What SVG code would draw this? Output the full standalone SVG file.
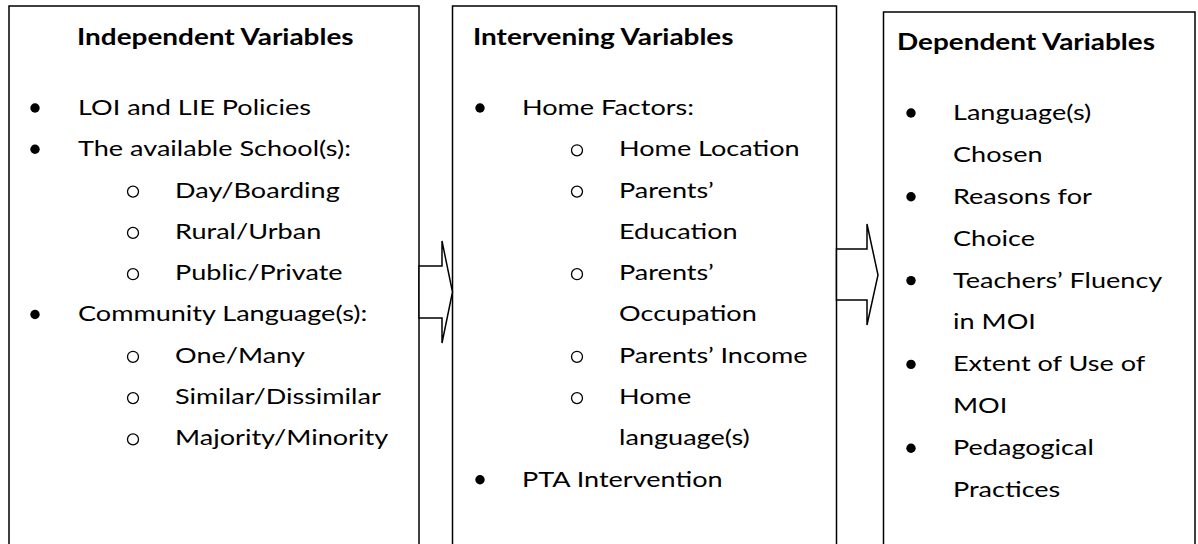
<svg xmlns="http://www.w3.org/2000/svg" width="1198" height="544" viewBox="0 0 1198 544">
<style>
.box{fill:#fff;stroke:#000;stroke-width:1.5}
.arr{fill:#fff;stroke:#000;stroke-width:1.5;stroke-linejoin:miter}
text{font-family:Lato,"Liberation Sans",sans-serif;font-size:22px;fill:#000}
.t{font-weight:bold}
.b{fill:#000}
.c{fill:none;stroke:#000;stroke-width:1.3}
</style>
<rect width="1198" height="544" fill="#fff"/>
<g id="independent">
<rect class="box" x="9" y="6" width="410" height="560"/>
<g transform="translate(77 0) scale(1.27 1)"><text class="t" x="0" y="45">Independent Variables</text></g>
<circle class="b" cx="35" cy="108" r="4.7"/>
<circle class="b" cx="35" cy="149.3" r="4.7"/>
<circle class="c" cx="133" cy="191.6" r="5.5"/>
<circle class="c" cx="133" cy="232.9" r="5.5"/>
<circle class="c" cx="133" cy="274.2" r="5.5"/>
<circle class="b" cx="35" cy="314.5" r="4.7"/>
<circle class="c" cx="133" cy="356.8" r="5.5"/>
<circle class="c" cx="133" cy="398.1" r="5.5"/>
<circle class="c" cx="133" cy="439.4" r="5.5"/>
<g transform="translate(78 0) scale(1.23 1)">
<text x="0" y="115">LOI and LIE Policies</text>
<text x="0" y="156.3">The available School(s):</text>
<text x="78.9" y="197.6">Day/Boarding</text>
<text x="78.9" y="238.9">Rural/Urban</text>
<text x="78.9" y="280.2">Public/Private</text>
<text x="0" y="321.5">Community Language(s):</text>
<text x="78.9" y="362.8">One/Many</text>
<text x="78.9" y="404.1">Similar/Dissimilar</text>
<text x="78.9" y="445.4">Majority/Minority</text>
</g>
</g>
<g id="intervening">
<rect class="box" x="452.5" y="6" width="384" height="560"/>
<g transform="translate(473 0) scale(1.27 1)"><text class="t" x="0" y="45">Intervening Variables</text></g>
<circle class="b" cx="480" cy="108" r="4.7"/>
<circle class="c" cx="577" cy="150.3" r="5.5"/>
<circle class="c" cx="577" cy="191.6" r="5.5"/>
<circle class="c" cx="577" cy="274.2" r="5.5"/>
<circle class="c" cx="577" cy="356.8" r="5.5"/>
<circle class="c" cx="577" cy="398.1" r="5.5"/>
<circle class="b" cx="480" cy="479.7" r="4.7"/>
<g transform="translate(522 0) scale(1.23 1)">
<text x="0" y="115">Home Factors:</text>
<text x="78.9" y="156.3">Home Location</text>
<text x="78.9" y="197.6">Parents’</text>
<text x="78.9" y="238.9">Education</text>
<text x="78.9" y="280.2">Parents’</text>
<text x="78.9" y="321.5">Occupation</text>
<text x="78.9" y="362.8">Parents’ Income</text>
<text x="78.9" y="404.1">Home</text>
<text x="78.9" y="445.4">language(s)</text>
<text x="0" y="486.7">PTA Intervention</text>
</g>
</g>
<g id="dependent">
<rect class="box" x="883.5" y="12" width="311.5" height="560"/>
<g transform="translate(897 0) scale(1.27 1)"><text class="t" x="0" y="50">Dependent Variables</text></g>
<circle class="b" cx="911" cy="113" r="4.7"/>
<circle class="b" cx="911" cy="196.8" r="4.7"/>
<circle class="b" cx="911" cy="280.6" r="4.7"/>
<circle class="b" cx="911" cy="364.4" r="4.7"/>
<circle class="b" cx="911" cy="448.2" r="4.7"/>
<g transform="translate(953 0) scale(1.23 1)">
<text x="0" y="120">Language(s)</text>
<text x="0" y="161.9">Chosen</text>
<text x="0" y="203.8">Reasons for</text>
<text x="0" y="245.7">Choice</text>
<text x="0" y="287.6">Teachers’ Fluency</text>
<text x="0" y="329.5">in MOI</text>
<text x="0" y="371.4">Extent of Use of</text>
<text x="0" y="413.3">MOI</text>
<text x="0" y="455.2">Pedagogical</text>
<text x="0" y="497.1">Practices</text>
</g>
</g>
<g id="connectors">
<path class="arr" d="M419,266 H442 V241 L452.5,292 L442,343 V318 H419 Z"/>
<path class="arr" d="M836.5,249 H867 V224 L878,275 L867,325 V300 H836.5 Z"/>
</g>
</svg>
